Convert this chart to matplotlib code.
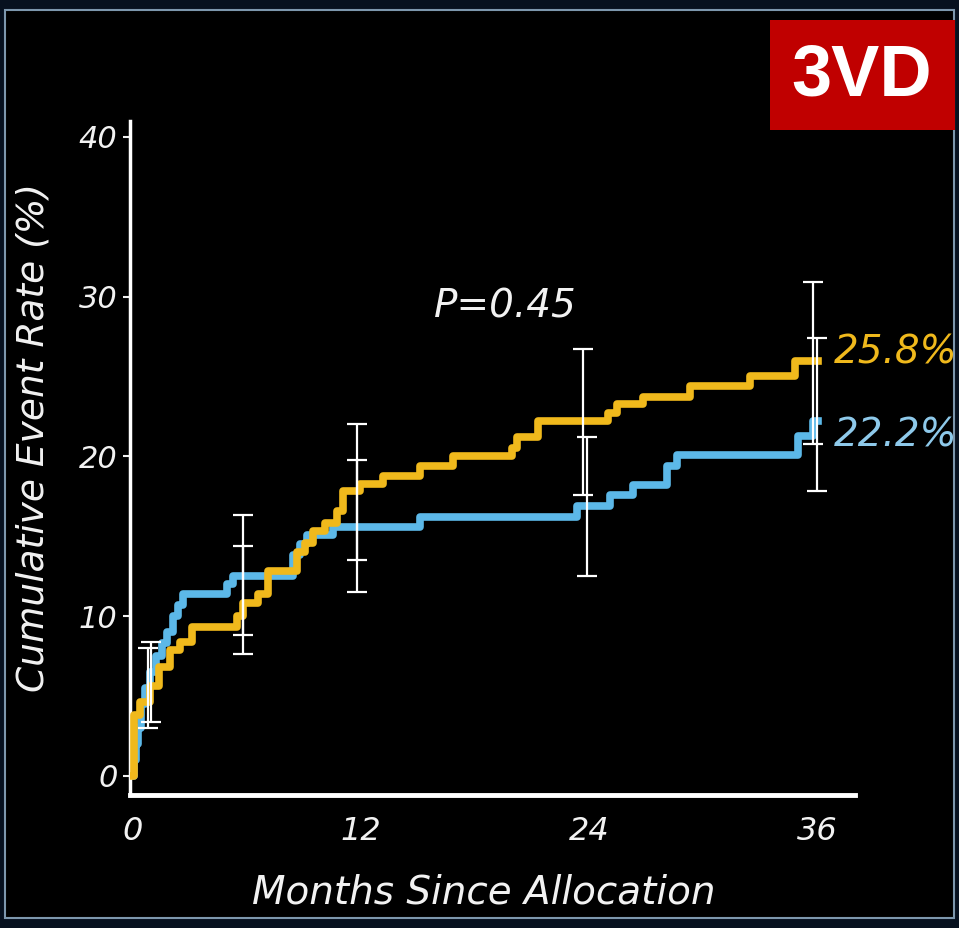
import numpy as np
from matplotlib import pyplot as plt
from matplotlib.patches import Rectangle

# Kaplan-Meier style step curves, months vs cumulative event rate (%)
months_yellow = [0, 0.05, 0.4, 0.9, 1.4, 1.95, 2.5, 3.1, 5.5, 5.8, 6.6, 7.1, 8.65,
                 9.05, 9.5, 10.1, 10.75, 11.05, 11.95, 13.15, 15.1, 16.85, 19.95,
                 20.2, 21.3, 25.0, 25.5, 26.85, 29.3, 32.5, 34.85, 36.05]
rate_yellow = [0, 3.8, 4.6, 5.6, 6.8, 7.9, 8.4, 9.3, 10.0, 10.8, 11.4, 12.8, 14.0,
               14.6, 15.3, 15.8, 16.6, 17.8, 18.3, 18.8, 19.4, 20.0, 20.5,
               21.2, 22.2, 22.7, 23.3, 23.7, 24.4, 25.0, 26.0, 26.0]

months_blue = [0, 0.05, 0.16, 0.26, 0.42, 0.63, 0.89, 1.21, 1.53, 1.79, 2.1, 2.37,
               2.63, 4.95, 5.26, 8.42, 8.79, 9.16, 10.53, 15.1, 23.37, 25.1, 26.3,
               28.1, 28.63, 35.0, 35.79, 36.05]
rate_blue = [0, 1.0, 2.0, 3.0, 4.5, 5.5, 6.5, 7.5, 8.3, 9.0, 10.0, 10.7,
             11.4, 12.0, 12.5, 13.8, 14.5, 15.1, 15.6, 16.2, 16.9, 17.6, 18.2,
             19.4, 20.1, 21.3, 22.2, 22.2]

# 95% CI bars
ci_months_yellow = [0.8, 5.8, 11.8, 23.7, 35.8]
ci_lo_yellow = [3.0, 7.6, 13.5, 17.6, 20.8]
ci_hi_yellow = [8.0, 14.4, 22.0, 26.7, 30.9]
ci_months_blue = [0.95, 5.8, 11.8, 23.9, 36.0]
ci_lo_blue = [3.4, 8.8, 11.5, 12.5, 17.8]
ci_hi_blue = [8.4, 16.3, 19.8, 21.2, 27.4]

final_labels = ["25.8%", "22.2%"]
p_text = "P=0.45"
x_ticks = [0, 12, 24, 36]
y_ticks = [0, 10, 20, 30, 40]

yellow = "#f0b91c"
blue = "#5cb8e8"
fg = "#f2f2f2"

fig = plt.figure(figsize=(9.59, 9.281), dpi=100, facecolor="#07111f")
# inner black panel with thin steel-blue border
fig.patches.append(Rectangle((5 / 959, 10 / 928), 949 / 959, 908 / 928,
                             transform=fig.transFigure, facecolor="black",
                             edgecolor="#7d97ad", linewidth=1.5, zorder=-5))

ax = fig.add_axes([130 / 959, (928 - 795) / 928, 725 / 959, 674 / 928])
ax.set_facecolor("none")
ax.set_zorder(2)

ax.step(months_blue, rate_blue, where="post", color=blue, linewidth=5.5, zorder=2)
ax.step(months_yellow, rate_yellow, where="post", color=yellow, linewidth=5.5, zorder=3)

for xs, lo, hi in [(ci_months_yellow, ci_lo_yellow, ci_hi_yellow),
                   (ci_months_blue, ci_lo_blue, ci_hi_blue)]:
    lo = np.array(lo)
    hi = np.array(hi)
    ax.errorbar(xs, (lo + hi) / 2, yerr=(hi - lo) / 2, fmt="none", ecolor="white",
                elinewidth=1.6, capsize=7, capthick=1.6, zorder=4)

ax.set_xlim(-0.15, 38.0)
ax.set_ylim(-1.2, 41)
ax.set_xticks(x_ticks)
ax.set_yticks(y_ticks)
ax.tick_params(axis="y", colors=fg, length=5, width=1.5, pad=4, labelsize=22)
ax.tick_params(axis="x", colors=fg, length=0, pad=15, labelsize=23)
for lab in ax.get_xticklabels() + ax.get_yticklabels():
    lab.set_style("italic")

for side in ["top", "right"]:
    ax.spines[side].set_visible(False)
ax.spines["left"].set_color("white")
ax.spines["left"].set_linewidth(2.5)
ax.spines["bottom"].set_color("white")
ax.spines["bottom"].set_linewidth(3.5)

ax.set_xlabel("Months Since Allocation", color=fg, fontsize=28, style="italic")
ax.set_ylabel("Cumulative Event Rate (%)", color=fg, fontsize=27, style="italic")
ax.xaxis.set_label_coords(0.488, -0.117)
ax.yaxis.set_label_coords(-0.108, 0.531)

ax.text(19.6, 29.4, p_text, color=fg, fontsize=28, style="italic", ha="center", va="center")
for lab, val, col in zip(final_labels, [26.5, 21.3], [yellow, "#8ec9ea"]):
    ax.text(36.9, val, lab, color=col, fontsize=28, style="italic", ha="left",
            va="center", clip_on=False)

# 3VD badge
fig.patches.append(Rectangle((770 / 959, 1 - 130 / 928), 185 / 959, 110 / 928,
                             transform=fig.transFigure, facecolor="#c00000",
                             edgecolor="none", zorder=5))
fig.text(862 / 959, 1 - 76 / 928, "3VD", color="white", fontsize=52, fontweight="bold",
         family="Liberation Sans", ha="center", va="center", zorder=6)

fig.savefig("out.png", dpi=100, facecolor=fig.get_facecolor())
